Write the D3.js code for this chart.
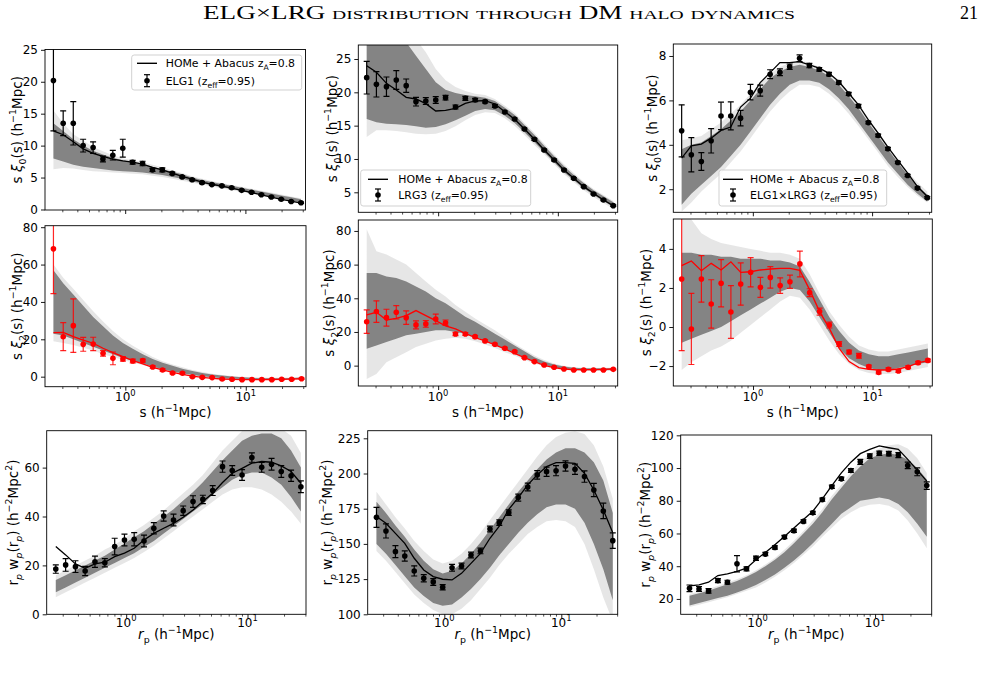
<!DOCTYPE html>
<html><head><meta charset="utf-8">
<script src="https://cdn.jsdelivr.net/npm/d3@7"></script>
<style>
body{margin:0;background:#fff;}
svg{display:block;font-family:"DejaVu Sans",sans-serif;}
</style></head><body>
<svg id="c" width="984" height="673"></svg>
<script>
// ---------- bins ----------
const s  = [0.253,0.305,0.370,0.447,0.541,0.653,0.789,0.955,1.153,1.396,1.687,2.037,2.466,2.979,3.606,4.355,5.260,6.370,7.690,9.310,11.25,13.58,16.44,19.86,24.04,29.04];
const rp = [0.263,0.317,0.382,0.459,0.553,0.667,0.804,0.968,1.164,1.403,1.690,2.037,2.455,2.951,3.556,4.285,5.164,6.223,7.482,9.016,10.86,13.09,15.78,18.97,22.86,27.54];
const sDomain  = [0.2153, 31.62];
const rpDomain = [0.2213, 30.34];
const xMajor = [1, 10];
const xMajorLabels = ["0", "1"];

// ---------- xi0 ELG1 ----------
const xi0ELG1      = [20.2,13.5,13.5,10.0,9.7,7.9,8.5,9.6,7.4,7.2,6.2,6.2,5.65,5.1,4.65,4.2,3.9,3.7,3.4,3.0,2.7,2.3,1.95,1.6,1.25,1.05];
const xi0ELG1Err   = [7.9,1.95,3.4,1.0,0.9,0.45,0.75,1.4,0.3,0.35,0.25,0.3,0.2,0.15,0.15,0.15,0.12,0.12,0.12,0.12,0.1,0.1,0.1,0.1,0.1,0.1];
const xi0ELG1Model = [12.3,11.7,10.6,9.5,8.8,8.3,7.9,7.6,7.4,7.1,6.6,6.2,5.7,5.2,4.75,4.3,3.95,3.65,3.35,3.0,2.65,2.3,1.95,1.6,1.3,1.0];
const xi0ELG1Lo    = [8.0,7.5,7.0,6.7,6.5,6.3,6.1,6.0,5.9,5.8,5.6,5.4,5.1,4.8,4.4,4.1,3.8,3.5,3.2,2.9,2.6,2.3,2.0,1.7,1.4,1.1];
const xi0ELG1Hi    = [13.5,12.3,11.0,10.0,9.2,8.6,8.1,7.7,7.4,7.1,6.7,6.3,5.9,5.5,5.0,4.6,4.3,4.0,3.7,3.4,3.1,2.8,2.5,2.2,1.9,1.6];
const xi0ELG1OLo   = [6.3,6.5,6.4,6.2,6.0,5.9,5.8,5.7,5.6,5.5,5.3,5.1,4.8,4.5,4.2,3.9,3.6,3.3,3.0,2.75,2.45,2.15,1.85,1.55,1.25,0.95];
const xi0ELG1OHi   = [15.5,13.5,11.8,10.8,9.8,9.1,8.5,8.0,7.7,7.4,7.0,6.6,6.1,5.7,5.2,4.8,4.45,4.15,3.85,3.55,3.25,2.95,2.65,2.35,2.05,1.75];

// ---------- xi0 LRG3 ----------
const xi0LRG3      = [22.2,21.2,20.85,21.85,21.0,18.6,18.7,18.85,19.2,17.8,19.1,18.85,18.6,17.95,17.05,16.0,14.5,12.95,11.35,9.85,8.35,7.1,5.85,4.75,3.85,3.0];
const xi0LRG3Err   = [2.45,1.9,1.45,1.4,1.0,0.65,0.5,0.5,0.35,0.3,0.3,0.25,0.2,0.2,0.15,0.15,0.15,0.15,0.12,0.12,0.12,0.12,0.1,0.1,0.1,0.1];
const xi0LRG3Model = [24.0,23.0,21.35,20.35,19.25,19.0,18.3,17.2,17.3,17.6,18.35,18.7,18.75,18.25,17.1,15.95,14.5,12.95,11.35,9.85,8.35,7.1,5.85,4.85,3.85,3.0];
const xi0LRG3Lo    = [16.0,15.5,15.3,15.2,15.1,14.9,14.7,14.8,15.2,15.8,16.5,17.2,17.5,17.3,16.5,15.4,14.0,12.5,11.0,9.5,8.0,6.8,5.6,4.6,3.7,2.8];
const xi0LRG3Hi    = [28,28,28,28,27.5,25.5,23.5,21.5,20.4,19.9,19.6,19.4,19.2,18.7,17.7,16.6,15.1,13.6,12.0,10.4,8.9,7.6,6.4,5.3,4.4,3.5];
const xi0LRG3OLo   = [13.3,14.3,14.3,14.2,14.0,13.8,13.7,13.8,14.2,14.9,15.8,16.6,17.0,16.9,16.1,15.0,13.6,12.1,10.7,9.2,7.7,6.5,5.3,4.3,3.4,2.5];
const xi0LRG3OHi   = [28,28,28,28,28,28,26,23.5,21.8,20.8,20.2,19.8,19.6,19.0,18.0,16.9,15.4,13.9,12.3,10.7,9.2,7.9,6.6,5.5,4.6,3.7];

// ---------- xi0 ELG1xLRG3 ----------
const xi0X      = [4.63,3.55,3.25,4.18,5.3,5.3,5.2,6.37,6.44,7.18,7.27,7.52,7.9,7.57,7.4,7.18,6.8,6.29,5.75,5.0,4.42,3.82,3.2,2.62,2.05,1.62];
const xi0XErr   = [1.17,0.77,0.4,0.55,0.62,0.63,0.35,0.35,0.25,0.2,0.15,0.12,0.15,0.1,0.08,0.08,0.08,0.07,0.07,0.06,0.06,0.06,0.05,0.05,0.05,0.05];
const xi0XModel = [3.4,3.95,4.03,4.3,4.65,4.8,5.7,6.1,6.8,7.25,7.7,7.7,7.75,7.6,7.45,7.22,6.85,6.32,5.8,5.12,4.52,3.9,3.3,2.72,2.12,1.67];
const xi0XLo    = [1.3,1.8,2.2,2.6,3.0,3.5,4.0,4.6,5.2,5.8,6.3,6.7,6.9,6.9,6.8,6.5,6.1,5.6,5.0,4.4,3.8,3.2,2.7,2.2,1.8,1.45];
const xi0XHi    = [3.8,4.0,4.1,4.4,4.7,5.1,5.5,6.0,6.5,7.0,7.3,7.5,7.6,7.5,7.35,7.1,6.7,6.2,5.65,5.0,4.4,3.8,3.2,2.65,2.15,1.75];
const xi0XOLo   = [1.0,1.4,1.9,2.3,2.7,3.2,3.7,4.3,4.9,5.5,6.0,6.4,6.7,6.7,6.6,6.3,5.9,5.4,4.85,4.25,3.65,3.05,2.55,2.1,1.7,1.4];
const xi0XOHi   = [4.2,4.3,4.4,4.7,5.0,5.4,5.8,6.3,6.8,7.2,7.5,7.7,7.8,7.7,7.5,7.25,6.85,6.35,5.8,5.15,4.55,3.95,3.35,2.8,2.3,1.9];

// ---------- xi2 ELG1 ----------
const xi2ELG1      = [68.4,21.4,27.3,17.3,17.5,12.5,9.8,9.5,8.4,8.6,5.2,3.6,2.0,1.8,0.0,-0.35,-0.5,-1.25,-1.4,-1.6,-1.6,-1.6,-1.6,-1.4,-1.4,-1.1];
const xi2ELG1Err   = [24,7.5,14.3,3.7,3.6,1.5,3.4,1.2,1.0,0.8,0.6,0.6,0.5,0.5,0.4,0.4,0.3,0.3,0.3,0.3,0.3,0.3,0.3,0.3,0.3,0.3];
const xi2ELG1Model = [23.6,23.75,21.4,19.6,17.9,15.2,12.9,10.7,8.6,6.8,5.0,3.6,2.3,1.25,0.35,-0.35,-0.9,-1.25,-1.4,-1.6,-1.6,-1.6,-1.5,-1.4,-1.3,-1.1];
const xi2ELG1Lo    = [23,22,20,18,16,14,12,10,8.5,7,5.5,4,2.8,1.8,0.9,0.2,-0.3,-0.8,-1.1,-1.3,-1.4,-1.5,-1.5,-1.4,-1.3,-1.2];
const xi2ELG1Hi    = [57,50,44,38,32,27,22,18,15,12,9.5,7.5,5.8,4.3,3.0,2.0,1.2,0.6,0.1,-0.3,-0.6,-0.8,-0.9,-0.8,-0.7,-0.5];
const xi2ELG1OLo   = [19,18,17,15.5,14,12,10.5,9,7.5,6.2,4.8,3.5,2.3,1.3,0.5,-0.2,-0.7,-1.1,-1.4,-1.6,-1.7,-1.8,-1.8,-1.7,-1.6,-1.5];
const xi2ELG1OHi   = [60,53,47,41,35,29.5,24.5,20,16.5,13.5,10.5,8.3,6.5,5.0,3.6,2.5,1.6,0.9,0.4,0,-0.3,-0.5,-0.6,-0.5,-0.4,-0.2];

// ---------- xi2 LRG3 ----------
const xi2LRG3      = [26.1,32.1,28.5,31.7,28.5,24.2,24.8,27.7,25.5,18.8,18.8,17.2,14.7,12.7,10.3,8.3,4.75,2.4,0.4,-1.0,-2.0,-2.6,-2.6,-2.6,-2.6,-2.2];
const xi2LRG3Err   = [7,6.4,5,4,4,2.4,2,2.9,1.6,1,0.8,0.7,0.6,0.6,0.5,0.5,0.4,0.4,0.35,0.35,0.3,0.3,0.3,0.3,0.3,0.3];
const xi2LRG3Model = [30.1,31.7,27.1,28.1,29.7,32.7,29.7,26.7,23.6,21.8,19.2,16.6,14.7,12.3,9.9,7.3,4.75,2.4,0.2,-1.2,-2.0,-2.4,-2.4,-2.4,-2.2,-2.0];
const xi2LRG3Lo    = [10,12,14,16,18,19,20,21,21,20,19,17,15,12.5,10,7.5,5,2.5,0.5,-1,-2,-2.6,-2.8,-2.8,-2.7,-2.6];
const xi2LRG3Hi    = [55,55,53,52,50,47,44,40,37,33,29,26,22.5,19,15.5,12,8.5,5,2.5,0.7,-0.5,-1.2,-1.5,-1.6,-1.6,-1.5];
const xi2LRG3OLo   = [-8,-5,2,5,8,11,13,15,16,16.5,16,14.5,12.5,10.5,8,5.8,3.5,1.3,-0.5,-1.8,-2.6,-3.0,-3.2,-3.2,-3.1,-3.0];
const xi2LRG3OHi   = [81,68,66,63,60,55,50,45,41,36,32,28,24.5,21,17,13,9.5,6,3.3,1.3,-0.1,-0.9,-1.2,-1.2,-1.2,-1.1];

// ---------- xi2 ELG1xLRG3 ----------
const xi2X      = [2.46,-0.1,2.46,1.18,2.24,0.77,2.2,2.8,2.03,2.54,2.12,2.32,3.23,1.76,0.79,0.1,-0.87,-1.28,-1.47,-2.03,-2.32,-2.17,-2.25,-2.06,-1.83,-1.71];
const xi2XErr   = [3.67,1.82,1.19,1.24,1.21,1.35,1.08,0.75,0.51,0.55,0.4,0.34,0.66,0.2,0.18,0.15,0.12,0.1,0.12,0.08,0.08,0.08,0.07,0.07,0.07,0.07];
const xi2XModel = [3.14,3.38,2.88,3.26,2.92,3.34,2.8,2.83,2.92,2.97,3.0,3.0,2.9,1.9,0.79,-0.07,-1.09,-1.77,-2.08,-2.17,-2.2,-2.2,-2.15,-2.03,-1.84,-1.72];
const xi2XLo    = [-0.8,-0.6,-0.4,-0.2,0,0.3,0.6,0.9,1.2,1.5,1.8,2.0,1.9,1.3,0.5,-0.3,-1.1,-1.6,-1.9,-2.1,-2.2,-2.2,-2.1,-2.0,-1.9,-1.8];
const xi2XHi    = [3.8,3.8,3.7,3.7,3.6,3.6,3.5,3.5,3.5,3.4,3.4,3.3,3.1,2.3,1.4,0.5,-0.2,-0.8,-1.2,-1.4,-1.5,-1.5,-1.4,-1.3,-1.2,-1.1];
const xi2XOLo   = [-2.2,-1.8,-1.5,-1.2,-1.0,-0.7,-0.3,0.1,0.5,0.9,1.3,1.6,1.5,0.9,0.1,-0.7,-1.4,-1.9,-2.2,-2.35,-2.4,-2.4,-2.35,-2.25,-2.15,-2.05];
const xi2XOHi   = [6,5.5,4.8,4.5,4.3,4.2,4.1,4.0,3.9,3.8,3.8,3.7,3.5,2.7,1.7,0.8,0.1,-0.5,-0.95,-1.15,-1.25,-1.25,-1.15,-1.05,-0.95,-0.85];

// ---------- wp ELG1 ----------
const wpELG1      = [18.5,20.2,19.5,17.7,21.5,21.1,27.7,30.4,30.7,30.0,35.2,40.2,38.6,42.4,46.1,47.0,50.6,60.4,58.8,57.0,64.1,60.1,61.4,58.4,56.7,52.2];
const wpELG1Err   = [1.7,2.6,2.4,1.9,2.3,1.7,3.4,2.4,2.7,2.4,2.3,2.1,2.4,1.9,2.4,1.7,2.0,2.3,2.0,2.2,1.9,2.0,2.4,2.4,2.3,2.4];
const wpELG1Model = [27.7,24.3,20.6,18.8,20.6,21.3,23.6,25.0,27.0,30.4,33.1,35.2,37.2,39.7,42.7,46.1,49.5,53.9,57.7,59.7,61.8,62.5,62.2,60.7,58.4,53.6];
const wpELG1Lo    = [9,11,13,15,17,19,21,23,25,27.5,30,33,36,39,42,45,49,52,55,57,58,58,56,53,48,42];
const wpELG1Hi    = [14,16,18,20,22,24,26.5,29,31.5,34,37,40,43,46.5,50,54,58.5,63,67,71,73,74,74,72,67,60];
const wpELG1OLo   = [7,9,11,13,15,17,19,21,23,25.5,28,31,34,37,40,43,46,49,51,52,52,51,49,46,42,37];
const wpELG1OHi   = [16,18,20,22,24,26.5,28.5,31,34,36.5,39.5,42.5,46,49.5,53,57,62,67,71,75,76,77,77,76,73,66];

// ---------- wp LRG3 ----------
const wpLRG3      = [168.9,159.2,144.5,141.4,130.8,125.6,123.0,119.2,133.1,134.3,142.1,145.0,160.6,165.1,172.2,182.9,190.4,199.0,201.3,202.0,205.3,203.0,197.8,188.3,173.4,152.3];
const wpLRG3Err   = [7.1,5,4.3,3.6,3.6,2.6,2.4,1.9,2.4,2.1,2,2,2,2,2,2.5,2.8,3,3.3,3.6,3.6,3.6,4,4.7,5.5,5.5];
const wpLRG3Model = [169.4,164.6,157.5,150.4,139.8,131.5,126.8,124.9,124.4,129.1,136.2,143.3,154.0,162.7,174.6,182.9,191.9,199.0,204.9,207.7,207.7,207.2,200.1,188.3,174.1,158.0];
const wpLRG3Lo    = [150,143,135,127,119,113,108,106,107,112,118,125,133,142,150,158,165,171,176,178,178,175,165,150,132,110];
const wpLRG3Hi    = [180,172,163,155,146,138,132,129,131,136,143,151,160,169,178,187,195,203,210,215,218,218,215,208,195,172];
const wpLRG3OLo   = [145,138,130,122,114,108,103,100,100,104,110,118,126,135,143,150,157,162,166,167,166,162,150,132,112,95];
const wpLRG3OHi   = [187,178,169,161,152,145,139,136,138,143,150,158,167,176,185,194,203,212,220,226,229,230,228,220,205,182];

// ---------- wp ELG1xLRG3 ----------
const wpX      = [26.5,26.1,24.9,31.2,30.2,41.5,38.4,44.9,47.4,51.5,57.8,61.7,67.4,72.6,80.7,88.5,93.4,98.5,103.8,107.3,109.0,108.8,107.9,101.6,97.7,89.3];
const wpXErr   = [2,1.5,1.4,1.2,1.2,5,1.2,1.3,1,1,1,1,1,1,1,1,1,1.2,1.5,1.4,1.3,1.4,1.5,2,2.4,2.3];
const wpXModel = [28,28.6,30.2,34.3,35.3,36.8,38.8,43.9,48.4,53.1,58.2,63.4,68.5,73.6,81.1,89.3,97.1,103.6,108.8,111.4,113.5,112.4,111.4,105.3,98.7,92.0];
const wpXLo    = [16,17.5,19,20.5,22,24,26,28.5,31.5,35,39,43.5,48.5,54,60,66,72,76,80,81,82,81,78,73,66,58];
const wpXHi    = [22,23.5,25,27,29,31,33.5,36.5,40,44,48.5,54,60,66,73,81,88,95,101,106,108,109,108,105,100,93];
const wpXOLo   = [15,16.5,18,19.5,21,23,25,27,30,33.5,37.5,42,47,52,58,63.5,69,73,76,77.5,78,77,74,68,60,51];
const wpXOHi   = [23,24.5,26,28,30,32,34.5,37.5,41,45,50,55.5,61.5,68,75,83,90,97.5,104,109,112,114,114.5,112,106,97];

// ---------- tick values ----------
const yTicksA = [0,5,10,15,20,25];
const yTicksB = [5,10,15,20,25];
const yTicksC = [2,4,6,8];
const yTicksD = [0,20,40,60,80];
const yTicksE = [0,20,40,60,80];
const yTicksF = [-2,0,2,4];
const yTicksG = [0,20,40,60];
const yTicksH = [100,125,150,175,200,225];
const yTicksI = [20,40,60,80,100,120];

// ---------- labels ----------
const modelLabel = [["HOMe + Abacus z","n"],["A","sub"],["=0.8","n"]];
const legendELG1 = [["ELG1 (z","n"],["eff","sub"],["=0.95)","n"]];
const legendLRG3 = [["LRG3 (z","n"],["eff","sub"],["=0.95)","n"]];
const legendX    = [["ELG1×LRG3 (z","n"],["eff","sub"],["=0.95)","n"]];
const ylabXi0 = [["s ","n"],["ξ","it"],["0","sub"],["(s) (h","n"],["−1","sup"],["Mpc)","n"]];
const ylabXi2 = [["s ","n"],["ξ","it"],["2","sub"],["(s) (h","n"],["−1","sup"],["Mpc)","n"]];
const ylabWp  = [["r","n"],["p","subit"],[" w","n"],["p","subit"],["(r","n"],["p","subit"],[") (h","n"],["−2","sup"],["Mpc","n"],["2","sup"],[")","n"]];
const xlabS   = [["s (h","n"],["−1","sup"],["Mpc)","n"]];
const xlabRp  = [["r","it"],["p","sub"],[" (h","n"],["−1","sup"],["Mpc)","n"]];

const BLACK = "#000000", RED = "#ff0000";

const panels = [
 {box:[45,305.5,49.5,210], xb:s, xd:sDomain, yd:[-0.08,25.05], yt:yTicksA, v:xi0ELG1, e:xi0ELG1Err, m:xi0ELG1Model, lo:xi0ELG1Lo, hi:xi0ELG1Hi, olo:xi0ELG1OLo, ohi:xi0ELG1OHi, col:BLACK, ylab:ylabXi0, ylx:17, xlab:null,
  leg:{x:131.7,y:55,w:170,h:35,lx:137,tx:165.7,y1:63.3,y2:80.7,txt:legendELG1}},
 {box:[358.3,617.7,45,212.3], xb:s, xd:sDomain, yd:[2.0,27.1], yt:yTicksB, v:xi0LRG3, e:xi0LRG3Err, m:xi0LRG3Model, lo:xi0LRG3Lo, hi:xi0LRG3Hi, olo:xi0LRG3OLo, ohi:xi0LRG3OHi, col:BLACK, ylab:ylabXi0, ylx:332, xlab:null,
  leg:{x:360.7,y:170,w:170,h:36,lx:368,tx:398.3,y1:179.3,y2:195,txt:legendLRG3}},
 {box:[673.3,931.7,44,212.3], xb:s, xd:sDomain, yd:[0.96,8.54], yt:yTicksC, v:xi0X, e:xi0XErr, m:xi0XModel, lo:xi0XLo, hi:xi0XHi, olo:xi0XOLo, ohi:xi0XOHi, col:BLACK, ylab:ylabXi0, ylx:652, xlab:null,
  leg:{x:719,y:170,w:167.7,h:36,lx:723,tx:750,y1:179.3,y2:195,txt:legendX}},
 {box:[45,306,225.7,386.7], xb:s, xd:sDomain, yd:[-5.36,80.8], yt:yTicksD, v:xi2ELG1, e:xi2ELG1Err, m:xi2ELG1Model, lo:xi2ELG1Lo, hi:xi2ELG1Hi, olo:xi2ELG1OLo, ohi:xi2ELG1OHi, col:RED, ylab:ylabXi2, ylx:17, xlab:xlabS, xly:417, xty:401},
 {box:[358.3,617.7,220,386], xb:s, xd:sDomain, yd:[-12.1,86.5], yt:yTicksE, v:xi2LRG3, e:xi2LRG3Err, m:xi2LRG3Model, lo:xi2LRG3Lo, hi:xi2LRG3Hi, olo:xi2LRG3OLo, ohi:xi2LRG3OHi, col:RED, ylab:ylabXi2, ylx:329, xlab:xlabS, xly:417, xty:401},
 {box:[673.3,932.3,219,386], xb:s, xd:sDomain, yd:[-3.02,5.53], yt:yTicksF, v:xi2X, e:xi2XErr, m:xi2XModel, lo:xi2XLo, hi:xi2XHi, olo:xi2XOLo, ohi:xi2XOHi, col:RED, ylab:ylabXi2, ylx:646, xlab:xlabS, xly:417, xty:401},
 {box:[46.7,306,430.7,614.3], xb:rp, xd:rpDomain, yd:[0,75.1], yt:yTicksG, v:wpELG1, e:wpELG1Err, m:wpELG1Model, lo:wpELG1Lo, hi:wpELG1Hi, olo:wpELG1OLo, ohi:wpELG1OHi, col:BLACK, ylab:ylabWp, ylx:13, xlab:xlabRp, xly:638.5, xty:626.5},
 {box:[367.7,617.7,430.7,614.3], xb:rp, xd:rpDomain, yd:[100,230.4], yt:yTicksH, v:wpLRG3, e:wpLRG3Err, m:wpLRG3Model, lo:wpLRG3Lo, hi:wpLRG3Hi, olo:wpLRG3OLo, ohi:wpLRG3OHi, col:BLACK, ylab:ylabWp, ylx:327, xlab:xlabRp, xly:638.5, xty:626.5},
 {box:[680.7,931.7,435,614.3], xb:rp, xd:rpDomain, yd:[10.6,120.2], yt:yTicksI, v:wpX, e:wpXErr, m:wpXModel, lo:wpXLo, hi:wpXHi, olo:wpXOLo, ohi:wpXOHi, col:BLACK, ylab:ylabWp, ylx:645, xlab:xlabRp, xly:638.5, xty:626.5}
];

const svg = d3.select("#c");

function rich(g, x, y, parts, fs){
  const t = g.append("text").attr("x", x).attr("y", y).attr("font-size", fs).attr("fill", "#000");
  let cur = 0;
  parts.forEach(([str, mode]) => {
    let off = 0, size = fs;
    if (mode === "sub" || mode === "subit") { off = 0.3*fs; size = 0.7*fs; }
    if (mode === "sup") { off = -0.42*fs; size = 0.7*fs; }
    const ts = t.append("tspan").text(str).attr("dy", (off - cur).toFixed(2)).attr("font-size", size.toFixed(2));
    if (mode === "it" || mode === "subit") ts.attr("font-style", "italic");
    cur = off;
  });
  return t;
}

// title
svg.append("text").attr("x", 203).attr("y", 19).attr("font-family", "'Liberation Serif','DejaVu Serif',serif")
  .attr("font-size", 18).attr("font-variant", "small-caps").attr("textLength", 592).attr("lengthAdjust", "spacingAndGlyphs")
  .text("ELG×LRG distribution through DM halo dynamics");
svg.append("text").attr("x", 978).attr("y", 19).attr("text-anchor", "end").attr("font-family", "'Liberation Serif','DejaVu Serif',serif")
  .attr("font-size", 18).text("21");

const minorBase = [2,3,4,5,6,7,8,9];
const fmt = v => (v < 0 ? "−" + Math.abs(v) : String(v));

panels.forEach((p, pi) => {
  const [x0, x1, y0, y1] = p.box;
  const x = d3.scaleLog().domain(p.xd).range([x0, x1]);
  const y = d3.scaleLinear().domain(p.yd).range([y1, y0]);
  const g = svg.append("g");
  const cid = "clip" + pi;
  g.append("clipPath").attr("id", cid).append("rect").attr("x", x0).attr("y", y0).attr("width", x1 - x0).attr("height", y1 - y0);
  const inner = g.append("g").attr("clip-path", `url(#${cid})`);
  const idx = d3.range(p.xb.length);

  const outer = d3.area().x(i => x(p.xb[i])).y0(i => y(p.olo[i])).y1(i => y(p.ohi[i]));
  const dense = d3.area().x(i => x(p.xb[i])).y0(i => y(p.lo[i])).y1(i => y(p.hi[i]));
  inner.append("path").attr("d", outer(idx)).attr("fill", "#808080").attr("fill-opacity", 0.2);
  inner.append("path").attr("d", dense(idx)).attr("fill", "#848484");

  const line = d3.line().x(i => x(p.xb[i])).y(i => y(p.m[i]));
  inner.append("path").attr("d", line(idx)).attr("fill", "none").attr("stroke", p.col).attr("stroke-width", 1.3);

  const ebOp = p.col === RED ? 0.85 : 1;
  const eb = inner.append("g").attr("stroke", p.col).attr("stroke-width", 1.2).attr("stroke-opacity", ebOp);
  idx.forEach(i => {
    const cx = x(p.xb[i]), ya = y(p.v[i] + p.e[i]), yb = y(p.v[i] - p.e[i]);
    eb.append("line").attr("x1", cx).attr("x2", cx).attr("y1", ya).attr("y2", yb);
    eb.append("line").attr("x1", cx - 3).attr("x2", cx + 3).attr("y1", ya).attr("y2", ya);
    eb.append("line").attr("x1", cx - 3).attr("x2", cx + 3).attr("y1", yb).attr("y2", yb);
  });
  inner.append("g").selectAll("circle").data(idx).join("circle")
    .attr("cx", i => x(p.xb[i])).attr("cy", i => y(p.v[i])).attr("r", 2.8).attr("fill", p.col);

  // frame
  g.append("rect").attr("x", x0).attr("y", y0).attr("width", x1 - x0).attr("height", y1 - y0)
    .attr("fill", "none").attr("stroke", "#000").attr("stroke-width", 0.9);

  // y axis
  const ya = g.append("g").attr("transform", `translate(${x0},0)`)
    .call(d3.axisLeft(y).tickValues(p.yt).tickSize(4).tickPadding(3).tickFormat(fmt));
  ya.select(".domain").remove();
  ya.selectAll("text").attr("font-size", 12).attr("font-family", "DejaVu Sans").attr("fill", "#000");
  ya.selectAll("line").attr("stroke", "#000").attr("stroke-width", 0.9);

  // x axis major & minor
  const xa = g.append("g").attr("transform", `translate(0,${y1})`)
    .call(d3.axisBottom(x).tickValues(xMajor).tickSize(4).tickFormat(""));
  xa.select(".domain").remove();
  xa.selectAll("line").attr("stroke", "#000").attr("stroke-width", 0.9);
  const minors = [];
  [0.1, 1, 10].forEach(d => minorBase.forEach(b => { const v = b * d; if (v > p.xd[0] && v < p.xd[1]) minors.push(v); }));
  const xm = g.append("g").attr("transform", `translate(0,${y1})`)
    .call(d3.axisBottom(x).tickValues(minors).tickSize(2.3).tickFormat(""));
  xm.select(".domain").remove();
  xm.selectAll("line").attr("stroke", "#000").attr("stroke-width", 0.7);

  if (p.xlab) {
    xMajor.forEach((v, k) => {
      rich(g, x(v), p.xty, [["10", "n"], [xMajorLabels[k], "sup"]], 12).attr("text-anchor", "middle");
    });
    rich(g, (x0 + x1) / 2, p.xly, p.xlab, 13.5).attr("text-anchor", "middle");
  }
  // y label
  rich(g, 0, 0, p.ylab, 13.5).attr("text-anchor", "middle")
    .attr("transform", `translate(${p.ylx + 4.5},${(y0 + y1) / 2}) rotate(-90)`);

  // legend
  if (p.leg) {
    const L = p.leg;
    const lg = g.append("g");
    lg.append("rect").attr("x", L.x).attr("y", L.y).attr("width", L.w).attr("height", L.h).attr("rx", 2.5)
      .attr("fill", "#fff").attr("fill-opacity", 0.8).attr("stroke", "#cccccc").attr("stroke-width", 0.9);
    lg.append("line").attr("x1", L.lx).attr("x2", L.lx + 20).attr("y1", L.y1).attr("y2", L.y1).attr("stroke", "#000").attr("stroke-width", 1.4);
    const ex = L.lx + 10;
    lg.append("line").attr("x1", ex).attr("x2", ex).attr("y1", L.y2 - 6).attr("y2", L.y2 + 6).attr("stroke", "#000").attr("stroke-width", 1.2);
    lg.append("line").attr("x1", ex - 3).attr("x2", ex + 3).attr("y1", L.y2 - 6).attr("y2", L.y2 - 6).attr("stroke", "#000").attr("stroke-width", 1.2);
    lg.append("line").attr("x1", ex - 3).attr("x2", ex + 3).attr("y1", L.y2 + 6).attr("y2", L.y2 + 6).attr("stroke", "#000").attr("stroke-width", 1.2);
    lg.append("circle").attr("cx", ex).attr("cy", L.y2).attr("r", 2.8).attr("fill", "#000");
    rich(lg, L.tx, L.y1 + 3.9, modelLabel, 10.9);
    rich(lg, L.tx, L.y2 + 3.9, L.txt, 10.9);
  }
});
</script>
</body></html>
